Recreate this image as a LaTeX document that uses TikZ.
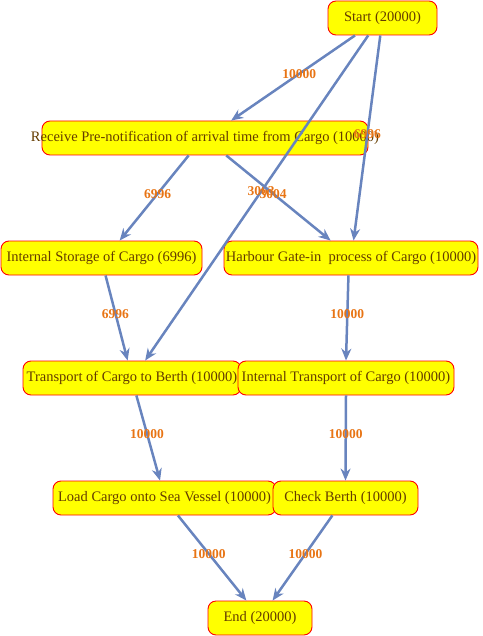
\documentclass[tikz,border=0pt]{standalone}
\usepackage{fontspec}
\setmainfont{Liberation Serif}
\usetikzlibrary{positioning, arrows.meta, calc}
\definecolor{pyellow}{RGB}{255,255,0}
\definecolor{pred}{RGB}{255,0,0}
\definecolor{pbrown}{RGB}{100,60,0}
\definecolor{pblue}{RGB}{104,132,190}
\definecolor{porange}{RGB}{232,116,20}

\begin{document}
\begin{tikzpicture}[x=1pt, y=-1pt,
    proc/.style={draw=pred, line width=0.9pt, fill=pyellow, rounded corners=8pt, minimum height=34pt,
                 inner xsep=0.5pt, inner ysep=0pt, text=pbrown, font=\fontsize{14.5}{16}\selectfont},
    flow/.style={-{Stealth[length=12pt, width=10pt]}, pblue, line width=2.5pt},
    cnt/.style={text=porange, font=\bfseries\fontsize{13.5}{15}\selectfont, pos=0.45}]
        \useasboundingbox (0,0) rectangle (482,636);

        % activities
        \node[proc, minimum width=109pt] (start) at (382.5,18) {Start (20000)};
        \node[proc, inner xsep=-11pt] (recv) at (205,138) {Receive Pre-notification of arrival time from Cargo (10000)};
        \node[proc, minimum width=201pt] (store) at (101.5,258) {Internal Storage of Cargo (6996)};
        \node[proc, minimum width=254pt] (gate) at (351,258) {Harbour Gate-in\ \ process of Cargo (10000)};
        \node[proc, minimum width=218pt] (berth) at (132,378) {Transport of Cargo to Berth (10000)};
        \node[proc, minimum width=216pt] (itrans) at (346,378) {Internal Transport of Cargo (10000)};
        \node[proc, minimum width=223pt] (load) at (164.5,498) {Load Cargo onto Sea Vessel (10000)};
        \node[proc, minimum width=145pt] (check) at (345.5,498) {Check Berth (10000)};
        \node[proc, minimum width=104pt] (end) at (260,618) {End (20000)};

        % from start
        \draw[flow] ($(start.south west)!0.25!(start.south east)$) -- node[cnt]{10000}
            ($(recv.north west)!0.58!(recv.north east)$);
        \draw[flow] ($(start.south west)!0.37!(start.south east)$) -- node[cnt, pos=0.48]{3003}
            ($(berth.north west)!0.56!(berth.north east)$);
        \draw[flow] ($(start.south west)!0.48!(start.south east)$) -- node[cnt, pos=0.48]{6996}
            ($(gate.north west)!0.51!(gate.north east)$);

        % from pre-notification
        \draw[flow] ($(recv.south west)!0.45!(recv.south east)$) -- node[cnt]{6996}
            ($(store.north west)!0.59!(store.north east)$);
        \draw[flow] ($(recv.south west)!0.565!(recv.south east)$) -- node[cnt]{3004}
            ($(gate.north west)!0.42!(gate.north east)$);

        % middle rows
        \draw[flow] ($(store.south west)!0.52!(store.south east)$) -- node[cnt]{6996}
            ($(berth.north west)!0.48!(berth.north east)$);
        \draw[flow] ($(gate.south west)!0.49!(gate.south east)$) -- node[cnt]{10000}
            ($(itrans.north west)!0.5!(itrans.north east)$);
        \draw[flow] ($(berth.south west)!0.52!(berth.south east)$) -- node[cnt]{10000}
            ($(load.north west)!0.48!(load.north east)$);
        \draw[flow] (itrans.south) -- node[cnt]{10000} (check.north);

        % to end
        \draw[flow] ($(load.south west)!0.56!(load.south east)$) -- node[cnt]{10000}
            ($(end.north west)!0.37!(end.north east)$);
        \draw[flow] ($(check.south west)!0.41!(check.south east)$) -- node[cnt]{10000}
            ($(end.north west)!0.62!(end.north east)$);
\end{tikzpicture}
\end{document}
